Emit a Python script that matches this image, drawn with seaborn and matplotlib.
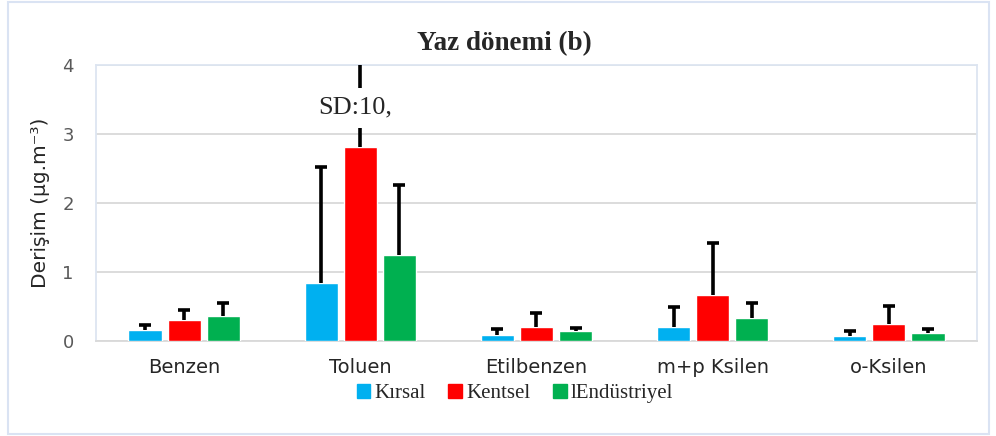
import matplotlib.pyplot as plt
import matplotlib.patches as mpatches
import pandas as pd
import seaborn as sns
import numpy as np

# Veriler
bilesikler = ['Benzen', 'Toluen', 'Etilbenzen', 'm+p Ksilen', 'o-Ksilen']
bolgeler = ['Kırsal', 'Kentsel', 'Endüstriyel']
lejant_etiket = ['Kırsal', 'Kentsel', 'lEndüstriyel']

kirsal = [0.16, 0.84, 0.09, 0.20, 0.07]
kentsel = [0.30, 2.81, 0.20, 0.67, 0.25]
endustriyel = [0.36, 1.25, 0.14, 0.33, 0.12]

kirsal_sd = [0.07, 1.68, 0.08, 0.29, 0.07]
kentsel_sd = [0.15, 10.0, 0.20, 0.75, 0.26]
endustriyel_sd = [0.19, 1.01, 0.05, 0.22, 0.05]

renkler = ['#00B0F0', '#FF0000', '#00B050']

df = pd.DataFrame({
    'bilesik': bilesikler * 3,
    'bolge': np.repeat(bolgeler, len(bilesikler)),
    'derisim': kirsal + kentsel + endustriyel,
})
sapmalar = [kirsal_sd, kentsel_sd, endustriyel_sd]

sns.set_style('white')
fig = plt.figure(figsize=(9.96, 4.36), dpi=100)
ax = fig.add_axes([0.0964, 0.2179, 0.8845, 0.633])

sns.barplot(data=df, x='bilesik', y='derisim', hue='bolge',
            order=bilesikler, hue_order=bolgeler, palette=renkler,
            width=0.665, gap=0.15, errorbar=None, saturation=1,
            legend=False, ax=ax, zorder=3)

# Standart sapma cubuklari (sadece yukari, alt kapak yok)
for cont, sd in zip(ax.containers, sapmalar):
    xs = [p.get_x() + p.get_width() / 2 for p in cont.patches]
    hs = [p.get_height() for p in cont.patches]
    _, kapaklar, _ = ax.errorbar(xs, hs, yerr=[np.zeros(len(sd)), sd],
                                 fmt='none', ecolor='black', elinewidth=2.6,
                                 capsize=4.5, capthick=2.6, zorder=4)
    kapaklar[0].set_visible(False)

# Toluen - Kentsel icin SD etiketi
ax.text(0.97, 3.38, 'SD:10,', ha='center', va='center', fontsize=19,
        family='Liberation Serif', zorder=5,
        bbox=dict(facecolor='white', edgecolor='none',
                  boxstyle='square,pad=0.35'))

ax.set_xlim(-0.5, 4.5)
ax.set_ylim(0, 4)
ax.set_yticks([0, 1, 2, 3, 4])
ax.yaxis.grid(True, color='#d9d9d9', lw=1.3, zorder=0)
ax.set_axisbelow(True)
for s in ['left', 'top', 'right']:
    ax.spines[s].set_color('#dde5f1')
    ax.spines[s].set_linewidth(1.3)
ax.spines['bottom'].set_color('#d9d9d9')
ax.spines['bottom'].set_linewidth(1.3)
ax.tick_params(axis='y', length=0, pad=16, labelsize=13, labelcolor='#595959')
ax.tick_params(axis='x', length=0, pad=12, labelsize=14)
ax.set_xlabel('')
ax.set_ylabel('Derişim (µg.m⁻³)', fontsize=14.5, labelpad=9)

ax.set_title('Yaz dönemi (b)', fontsize=19.5, fontweight='bold',
             family='Liberation Serif', x=0.464, pad=11)

# Lejant
tutamaclar = [mpatches.Patch(color=c) for c in renkler]
fig.legend(tutamaclar, lejant_etiket, loc='center', ncol=3,
           bbox_to_anchor=(0.517, 0.098), frameon=True, facecolor='white',
           edgecolor='none', framealpha=1, handlelength=0.65,
           handleheight=0.65, handletextpad=0.2, columnspacing=1.1,
           borderpad=0.2, prop={'family': 'Liberation Serif', 'size': 15})

# Dis cerceve
fig.patches.append(mpatches.Rectangle((0.008, 0.005), 0.985, 0.99,
                                      transform=fig.transFigure, fill=False,
                                      edgecolor='#dae3f3', lw=1.5))

plt.savefig('out.png', dpi=100)
